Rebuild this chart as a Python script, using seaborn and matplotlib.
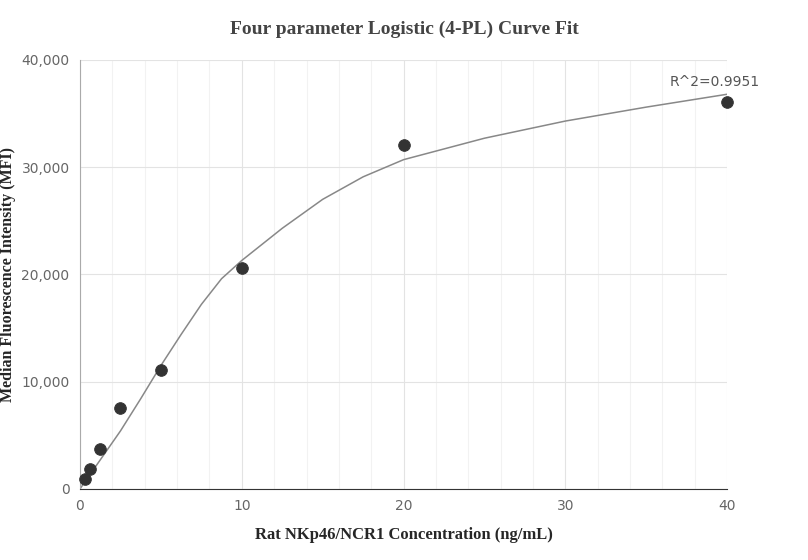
import matplotlib
matplotlib.use("Agg")
import matplotlib.pyplot as plt
import seaborn as sns
import numpy as np

conc = [0.3125, 0.625, 1.25, 2.5, 5, 10, 20, 40]
mfi = [900, 1900, 3700, 7500, 11100, 20600, 32100, 36100]
fit_x = [0, 1.25, 2.5, 3.75, 5, 6.25, 7.5, 8.75, 10, 12.5, 15, 17.5, 20, 25, 30, 35, 40]
fit_y = [0, 2700, 5400, 8400, 11500, 14400, 17200, 19600, 21300, 24300, 27000, 29100, 30700, 32700, 34300, 35600, 36800]
xticks = [0, 10, 20, 30, 40]
yticks = [0, 10000, 20000, 30000, 40000]

sns.set_style("white")
fig = plt.figure(figsize=(8.08, 5.6), dpi=100)
ax = fig.add_axes([0.099, 0.127, 0.801, 0.766])
ax.set_xlim(0, 40)
ax.set_ylim(0, 40000)
ax.set_xticks(xticks)
ax.set_xticks(np.arange(0, 41, 2), minor=True)
ax.set_yticks(yticks)
ax.grid(True, which="major", color="#e3e3e3", lw=0.8)
ax.grid(True, which="minor", axis="x", color="#f2f2f2", lw=0.8)
ax.set_axisbelow(True)
sns.lineplot(x=fit_x, y=fit_y, ax=ax, color="#888888", lw=1.1)
sns.scatterplot(x=conc, y=mfi, ax=ax, color="#333333", s=70, edgecolor="#333333", zorder=3, clip_on=False)
ax.set_yticklabels([f"{v:,}" for v in yticks])
for s in ["top", "right"]:
    ax.spines[s].set_visible(False)
ax.spines["left"].set_color("#aaaaaa")
ax.spines["bottom"].set_color("#333333")
ax.tick_params(axis="both", labelsize=10, labelcolor="#666666", color="#aaaaaa", length=4)
ax.tick_params(which="minor", length=0)
ax.set_xlabel("Rat NKp46/NCR1 Concentration (ng/mL)", fontfamily="Liberation Serif",
              fontweight="bold", fontsize=12, labelpad=10)
ax.set_ylabel("Median Fluorescence Intensity (MFI)", fontfamily="Liberation Serif",
              fontweight="bold", fontsize=11.5, labelpad=4)
fig.text(0.5, 0.94, "Four parameter Logistic (4-PL) Curve Fit", ha="center",
         fontfamily="Liberation Serif", fontweight="bold", fontsize=14, color="#444444")
ax.text(39.2, 37300, "R^2=0.9951", ha="center", va="bottom", fontsize=10, color="#555555")
fig.savefig("out.png", dpi=100)
